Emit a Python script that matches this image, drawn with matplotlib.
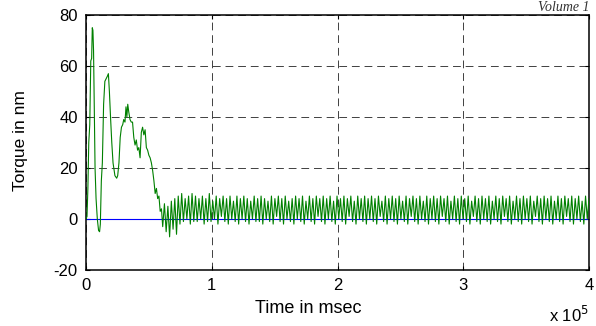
import numpy as np
import matplotlib
matplotlib.use("Agg")
import matplotlib.pyplot as plt

# ---- data (time in units of 1e5 msec, torque in nm) ----
trans_t = [0.000, 0.008, 0.015, 0.022, 0.030, 0.038, 0.045, 0.050, 0.055, 0.060,
           0.066, 0.072, 0.080, 0.090, 0.100, 0.108, 0.114, 0.122, 0.130, 0.140,
           0.150, 0.160, 0.170, 0.178, 0.186, 0.195, 0.205, 0.215, 0.230, 0.244,
           0.252, 0.262, 0.272, 0.282, 0.292, 0.300, 0.310, 0.318, 0.325, 0.332,
           0.340, 0.350, 0.360, 0.370, 0.380, 0.390, 0.400, 0.410, 0.420, 0.430,
           0.440, 0.450, 0.460, 0.470, 0.480, 0.490, 0.500, 0.510, 0.520, 0.530,
           0.540, 0.550, 0.560, 0.570, 0.580, 0.590, 0.600]
trans_y = [0.0, 1.0, 12.0, 30.0, 37.0, 62.0, 63.0, 75.0, 74.0, 66.0,
           42.0, 20.0, 8.0, 0.0, -4.5, -5.0, -2.0, 15.0, 22.0, 45.0,
           54.0, 55.0, 56.0, 57.0, 50.0, 40.0, 30.0, 22.0, 17.0, 16.0,
           17.0, 22.0, 32.0, 36.0, 37.0, 39.0, 38.0, 44.0, 40.0, 45.0,
           42.0, 39.0, 38.0, 38.0, 32.0, 29.0, 31.0, 27.0, 28.0, 24.0,
           34.0, 36.0, 33.0, 35.0, 28.0, 27.0, 25.0, 24.0, 22.0, 19.0,
           15.0, 10.0, 12.0, 8.0, 9.0, 3.0, 4.0]

steady_y = [-3, 6, -5, 5, -7, 7, -4, 8, -6, 9, -2, 10, -1, 8, 0, 9, -2, 10, -1, 9,
            -1, 8, 0, 9, -2, 8, -1, 10, -1, 7, 0, 9, -2, 8, 1, 9, -1, 8, -2, 9,
            0, 7, -1, 9, -2, 8, 0, 9, -1, 8, -2, 7, 0, 9, -1, 8, -1, 9, -2, 8,
            0, 7, -1, 9, -2, 8, 1, 9, -1, 8, -2, 9, 0, 7, -1, 8, -2, 9, 0, 8,
            -1, 9, -2, 7, 0, 9, -1, 8, -2, 9, 1, 8, -1, 9, -2, 8, 0, 9, -1, 7,
            -2, 9, 0, 8, -1, 9, -2, 8, 1, 9, -1, 7, -2, 9, 0, 8, -1, 9, -2, 8,
            0, 9, -1, 8, -2, 9, 1, 7, -1, 9, -2, 8, 0, 9, -1, 8, -2, 9, 0, 7,
            -1, 9, -2, 8, 1, 9, -1, 8, -2, 9, 0, 7, -1, 9, -2, 8, 0, 9, -1, 8,
            -2, 9, 1, 8, -1, 9, -2, 7, 0, 9, -1, 8, -2, 9, 0, 8, -1, 9, -2, 7,
            1, 9, -1, 8, -2, 9, 0, 8, -1, 9, -2, 7, 0, 9, -1, 8, -2, 9, 1, 8,
            -1, 9, -2, 7, 0, 9, -1, 8, -2, 9, 0, 8, -1, 9, -2, 7, 1, 9, -1, 8,
            -2, 9, 0, 8, -1, 9, -2, 7, 0, 9, -1, 8, -2, 9, 1, 8, -1, 9, -2, 8,
            0, 9, -1, 7, -2, 9, 0, 8]
steady_start = 0.61
steady_end = 4.0

ref_t = [0.0, 4.0]
ref_y = [0.0, 0.0]

x_ticks = [0, 1, 2, 3, 4]
y_ticks = [-20, 0, 20, 40, 60, 80]

steady_t = np.linspace(steady_start, steady_end, len(steady_y))
t = np.concatenate([trans_t, steady_t])
y = np.concatenate([trans_y, steady_y]).astype(float)

plt.rcParams['font.family'] = ['Liberation Sans', 'DejaVu Sans']

fig = plt.figure(figsize=(5.96, 3.26), dpi=100)
ax = fig.add_axes([86/596, 1 - 270/326, (589-86)/596, (270-15)/326])

ax.plot(ref_t, ref_y, color='#0000ff', lw=0.8, zorder=2)
ax.plot(t, y, color='#008000', lw=0.8, zorder=3)

ax.set_xlim(0, 4)
ax.set_ylim(-20, 80)
ax.set_xticks(x_ticks)
ax.set_yticks(y_ticks)
ax.set_xticklabels([str(v) for v in x_ticks], fontsize=12)
ax.set_yticklabels([str(v) for v in y_ticks], fontsize=12)
ax.tick_params(direction='in', length=3, width=0.8, top=True, right=True)
ax.tick_params(axis='x', pad=6)
ax.tick_params(axis='y', pad=6)
ax.grid(True, color='black', linestyle=(0, (8, 5)), linewidth=0.7, alpha=0.75)
for s in ax.spines.values():
    s.set_linewidth(1.1)

fig.text(308/596, 1 - 313/326, 'Time in msec', ha='center', va='baseline', fontsize=13)
fig.text(21/596, 1 - 141/326, 'Torque in nm', ha='center', va='center',
         rotation=90, fontsize=12.5)
fig.text(589/596, 1 - 322/326, r'x 10$^{5}$', ha='right', va='baseline', fontsize=12)
fig.text(589/596, 1 - 11/326, 'Volume 1', ha='right', va='baseline',
         fontsize=10, family='Liberation Serif', style='italic', color='#333333')

fig.savefig('out.png', dpi=100)
